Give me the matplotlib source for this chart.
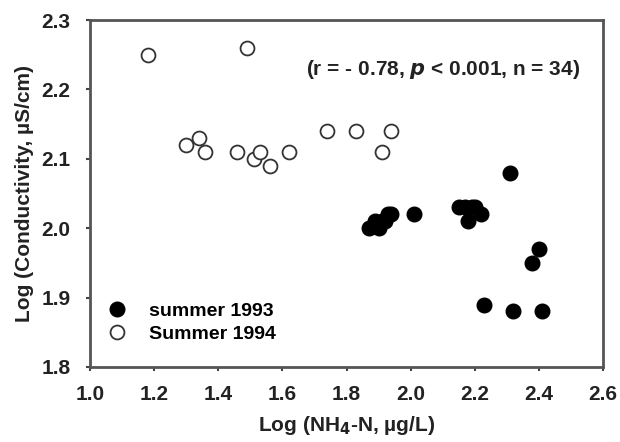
import matplotlib
matplotlib.use('Agg')
import matplotlib.pyplot as plt

plt.rcParams['font.family'] = ['Liberation Sans', 'DejaVu Sans']
plt.rcParams['font.weight'] = 'bold'

# summer 1993 (filled)
x93 = [2.31, 1.87, 1.89, 1.90, 1.91, 1.92, 1.93, 1.94, 2.01,
       2.15, 2.17, 2.19, 2.20, 2.18, 2.22, 2.40, 2.38, 2.23, 2.32, 2.41]
y93 = [2.08, 2.00, 2.01, 2.00, 2.01, 2.01, 2.02, 2.02, 2.02,
       2.03, 2.03, 2.03, 2.03, 2.01, 2.02, 1.97, 1.95, 1.89, 1.88, 1.88]

# Summer 1994 (open)
x94 = [1.18, 1.49, 1.30, 1.34, 1.36, 1.46, 1.51, 1.53, 1.56, 1.62, 1.74, 1.83, 1.94, 1.91]
y94 = [2.25, 2.26, 2.12, 2.13, 2.11, 2.11, 2.10, 2.11, 2.09, 2.11, 2.14, 2.14, 2.14, 2.11]

xticks = [1.0, 1.2, 1.4, 1.6, 1.8, 2.0, 2.2, 2.4, 2.6]
yticks = [1.8, 1.9, 2.0, 2.1, 2.2, 2.3]

fig = plt.figure(figsize=(6.2, 4.42), dpi=100)
ax = fig.add_axes([90 / 620, 75 / 442, 513 / 620, 347 / 442])

ax.plot(x93, y93, 'o', color='black', ms=10.5, ls='none', label='summer 1993')
ax.plot(x94, y94, 'o', mfc='white', mec='#333333', mew=1.3, ms=10, ls='none', label='Summer 1994')

ax.set_xlim(1.0, 2.6)
ax.set_ylim(1.8, 2.3)
ax.set_xticks(xticks)
ax.set_yticks(yticks)
ax.set_xticklabels(['%.1f' % v for v in xticks])
ax.set_yticklabels(['%.1f' % v for v in yticks])
ax.tick_params(direction='out', length=3, width=1.5, colors='#444444',
               labelcolor='#222222', labelsize=15)
ax.tick_params(axis='x', pad=10)
ax.tick_params(axis='y', pad=11)

for s in ax.spines.values():
    s.set_linewidth(2)
    s.set_color('#555555')

ax.set_xlabel('Log (NH$_4$-N, \u00b5g/L)', fontsize=15, fontweight='bold', color='#222222',
              labelpad=7)
ax.set_ylabel('Log (Conductivity, \u00b5S/cm)', fontsize=15, fontweight='bold', color='#222222',
              labelpad=5)

ax.text(2.10, 2.228, r'(r = - 0.78, $\mathbfit{p}$ < 0.001, n = 34)', ha='center', va='center',
        fontsize=15, fontweight='bold', color='#222222')

ax.legend(loc='lower left', bbox_to_anchor=(0.0, 0.02), frameon=False, fontsize=14,
          handlelength=1.0, handletextpad=1.15, labelspacing=0.25, borderaxespad=0.5)

fig.savefig('out.png', dpi=100)
